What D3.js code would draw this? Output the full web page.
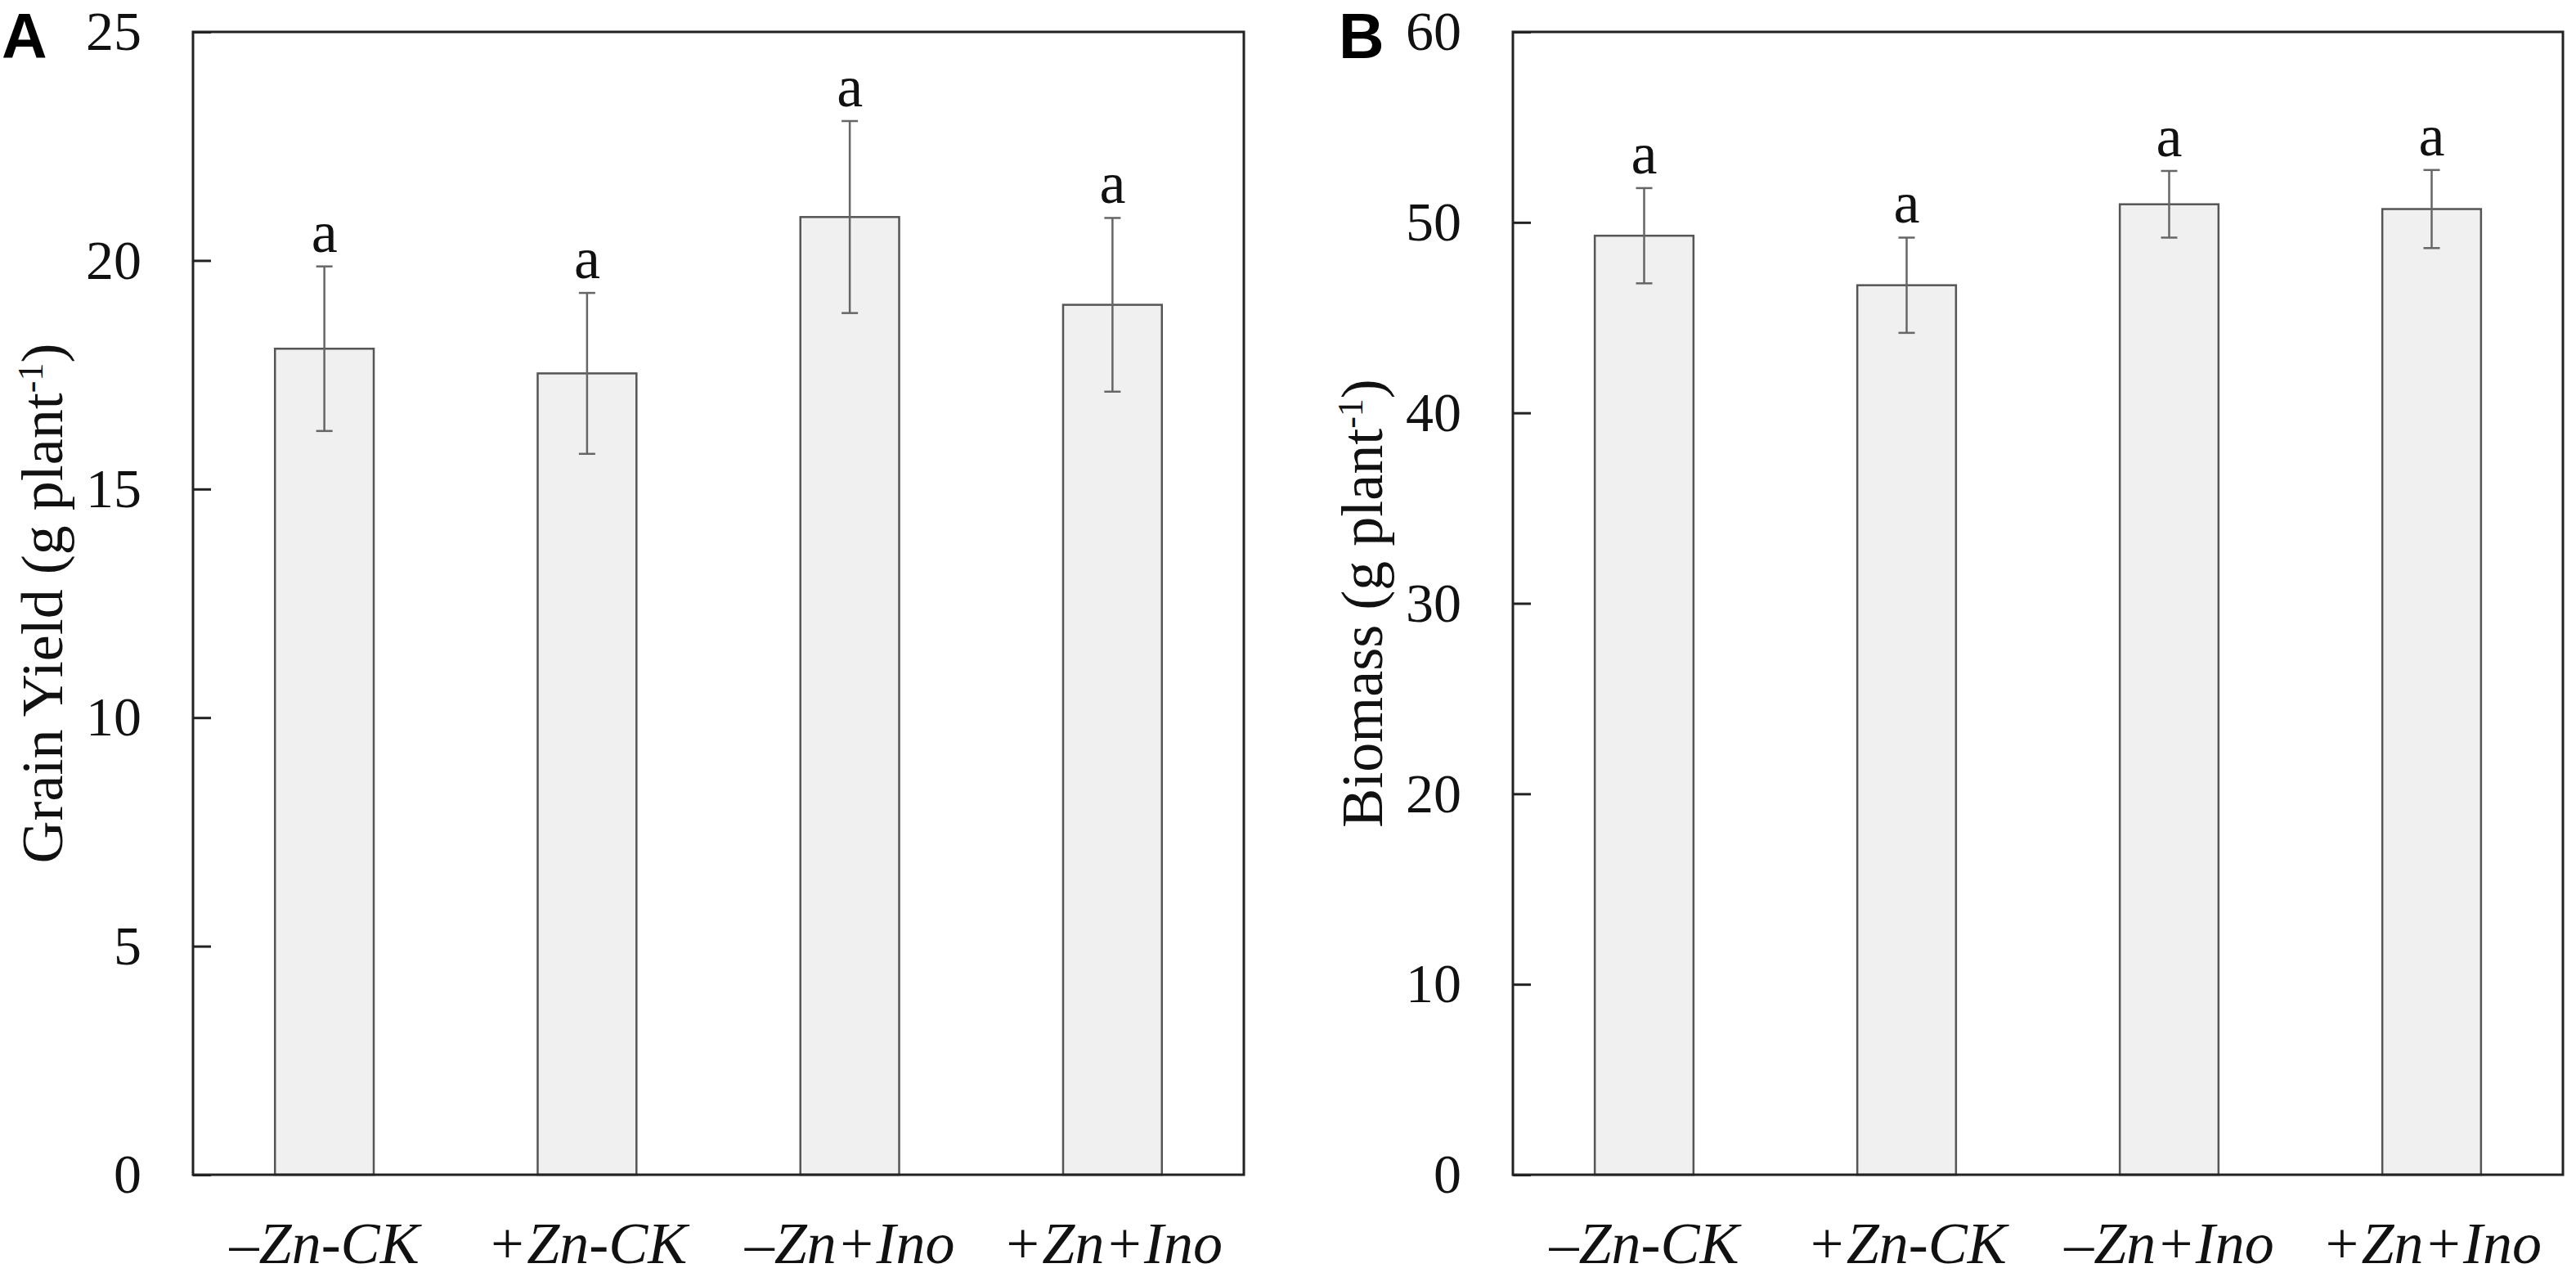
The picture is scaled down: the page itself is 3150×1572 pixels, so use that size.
<!DOCTYPE html>
<html>
<head>
<meta charset="utf-8">
<script src="https://cdn.jsdelivr.net/npm/d3@7"></script>
<style>
  body { margin: 0; background: #fff; }
  text { font-family: "Liberation Serif", "Times New Roman", serif; fill: #111; }
</style>
</head>
<body>
<script>
// treatments on the x axis
var categories = ["\u2013Zn-CK", "+Zn-CK", "\u2013Zn+Ino", "+Zn+Ino"];

// panel A: grain yield (g plant-1)
var yieldMean = [18.07, 17.53, 20.95, 19.03];
var yieldErr  = [1.80, 1.76, 2.10, 1.90];
var yieldLetters = ["a", "a", "a", "a"];
var yieldTicks = [0, 5, 10, 15, 20, 25];

// panel B: biomass (g plant-1)
var bioMean = [49.30, 46.70, 50.95, 50.70];
var bioErr  = [2.50, 2.50, 1.75, 2.05];
var bioLetters = ["a", "a", "a", "a"];
var bioTicks = [0, 10, 20, 30, 40, 50, 60];

var W = 3150, H = 1572;

var svg = d3.select("body").append("svg")
            .attr("width", W)
            .attr("height", H);

function panel(opts) {
  var left = opts.left, right = opts.right, top = 39, bottom = 1436;

  var x = d3.scaleBand()
            .domain(categories)
            .range([left, right])
            .paddingInner(0.624)
            .paddingOuter(0.312);

  var y = d3.scaleLinear()
            .domain([0, d3.max(opts.ticks)])
            .range([bottom, top]);

  var g = svg.append("g");

  var rows = categories.map(function(c, i) {
    return {cat: c, mean: opts.mean[i], err: opts.err[i], letter: opts.letters[i]};
  });

  // bars
  g.selectAll("rect.bar")
   .data(rows)
   .enter().append("rect")
   .attr("class", "bar")
   .attr("x", function(d) { return x(d.cat); })
   .attr("y", function(d) { return y(d.mean); })
   .attr("width", x.bandwidth())
   .attr("height", function(d) { return y(0) - y(d.mean); })
   .style("fill", "#f0f0f0")
   .style("stroke", "#555")
   .style("stroke-width", 2.5);

  // error bars
  var cx = function(d) { return x(d.cat) + x.bandwidth() / 2; };
  var eb = g.selectAll("g.err")
            .data(rows)
            .enter().append("g")
            .attr("class", "err")
            .style("stroke", "#666")
            .style("stroke-width", 2.5);

  eb.append("line")
    .attr("x1", cx).attr("x2", cx)
    .attr("y1", function(d) { return y(d.mean + d.err); })
    .attr("y2", function(d) { return y(d.mean - d.err); });
  eb.append("line")
    .attr("x1", function(d) { return cx(d) - 10; })
    .attr("x2", function(d) { return cx(d) + 10; })
    .attr("y1", function(d) { return y(d.mean + d.err); })
    .attr("y2", function(d) { return y(d.mean + d.err); });
  eb.append("line")
    .attr("x1", function(d) { return cx(d) - 10; })
    .attr("x2", function(d) { return cx(d) + 10; })
    .attr("y1", function(d) { return y(d.mean - d.err); })
    .attr("y2", function(d) { return y(d.mean - d.err); });

  // significance letters
  g.selectAll("text.letter")
   .data(rows)
   .enter().append("text")
   .attr("class", "letter")
   .attr("x", cx)
   .attr("y", function(d) { return y(d.mean + d.err) - 18; })
   .attr("text-anchor", "middle")
   .style("font-size", "72px")
   .text(function(d) { return d.letter; });

  // y axis, ticks pointing inward
  var yAxis = g.append("g")
               .attr("transform", "translate(" + left + ",0)")
               .call(d3.axisLeft(y)
                       .tickValues(opts.ticks)
                       .tickSizeInner(-22)
                       .tickSizeOuter(0)
                       .tickPadding(63));
  yAxis.select(".domain").remove();
  yAxis.selectAll("line").style("stroke", "#222").style("stroke-width", 3);
  yAxis.selectAll("text")
       .style("font-size", "68px")
       .style("font-family", "'Liberation Serif', 'Times New Roman', serif")
       .style("fill", "#111");

  // x axis labels
  var xAxis = g.append("g")
               .attr("transform", "translate(0," + bottom + ")")
               .call(d3.axisBottom(x).tickSize(0).tickPadding(57));
  xAxis.select(".domain").remove();
  xAxis.selectAll("text")
       .style("font-size", "72px")
       .style("font-style", "italic")
       .style("font-family", "'Liberation Serif', 'Times New Roman', serif")
       .style("fill", "#111");

  // frame
  g.append("rect")
   .attr("x", left)
   .attr("y", top)
   .attr("width", right - left)
   .attr("height", bottom - top)
   .style("fill", "none")
   .style("stroke", "#222")
   .style("stroke-width", 3);

  // y title
  var t = g.append("text")
           .attr("transform", "translate(" + (left - 160) + "," + ((top + bottom) / 2) + ") rotate(-90)")
           .attr("text-anchor", "middle")
           .style("font-size", "72px");
  t.append("tspan").text(opts.title + " (g plant");
  t.append("tspan").attr("baseline-shift", "super").style("font-size", "44px").text("-1");
  t.append("tspan").text(")");

  // panel letter
  svg.append("text")
     .attr("x", opts.labelX)
     .attr("y", 71)
     .style("font-family", "'Liberation Sans', Arial, sans-serif")
     .style("font-weight", "bold")
     .style("font-size", "77px")
     .style("fill", "#000")
     .text(opts.label);
}

panel({left: 236, right: 1521, mean: yieldMean, err: yieldErr, letters: yieldLetters,
       ticks: yieldTicks, title: "Grain Yield", label: "A", labelX: 2});
panel({left: 1850, right: 3134, mean: bioMean, err: bioErr, letters: bioLetters,
       ticks: bioTicks, title: "Biomass", label: "B", labelX: 1637});
</script>
</body>
</html>
